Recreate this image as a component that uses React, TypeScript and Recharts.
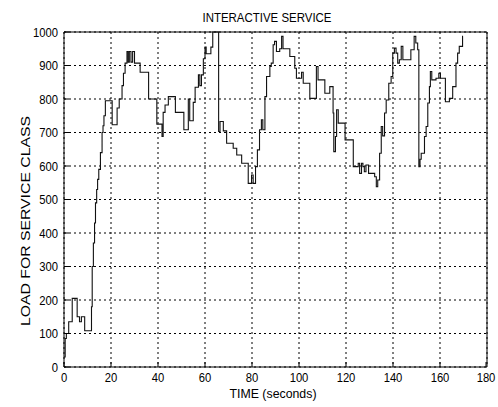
import { LineChart, Line, XAxis, YAxis, CartesianGrid, ReferenceArea } from 'recharts';

// time (s) and load; drawn as a step line
const timeSec = [
  0, 0.5, 1, 2, 3.5, 5.6, 6.6, 7.4, 8.8, 11.7, 12, 12.5, 13, 13.4, 13.9, 14.3, 14.8, 15.5, 16.2, 16.6,
  17, 17.6, 20.5, 22.6, 23.5, 24.7, 25.3, 26, 26.8, 27.3, 27.8, 28.5, 29.2, 30, 32.4, 36, 39.5, 41.7, 42.2, 43,
  44.4, 47.4, 51, 52.9, 53.5, 55, 55.8, 57.2, 57.8, 58.5, 59.3, 60, 60.5, 62.5, 63.3, 65.8, 66.4, 67.8, 69.2, 72,
  73.5, 75.6, 78.4, 79.8, 80.5, 81.5, 82.3, 83.2, 84, 84.6, 85.5, 86.2, 87.6, 88.2, 89, 89.6, 90.4, 91.8, 92.6, 93.2,
  96.1, 98.2, 98.9, 101.1, 101.8, 104.6, 107.4, 108.1, 111, 113.1, 114.5, 114.8, 115.5, 116, 116.7, 119.6, 123.1, 125.2, 125.8, 126.6,
  127.2, 127.8, 128.5, 129.6, 132.2, 132.9, 133.5, 134.3, 135, 135.6, 136.4, 137.1, 138.2, 139.2, 139.9, 140.6, 141.3, 142, 142.7, 143.5,
  144.2, 147.6, 149, 149.7, 150.5, 151, 151.5, 152, 153.4, 154.1, 154.8, 155.5, 155.9, 156.5, 158.3, 159.5, 160.2, 162.3, 164, 165.4,
  166.8, 167.5, 168.2, 169.6, 169.8,
];

const loadValues = [
  30, 85, 100, 135, 205, 150, 135, 150, 108, 180, 300, 370, 430, 490, 530, 560, 590, 640, 700, 720,
  750, 795, 723, 773, 800, 840, 877, 907, 942, 910, 942, 910, 942, 907, 880, 800, 725, 688, 760, 782,
  807, 760, 708, 800, 735, 790, 835, 872, 840, 872, 920, 955, 935, 955, 1000, 703, 733, 705, 668, 653,
  633, 608, 548, 573, 548, 598, 648, 708, 738, 708, 807, 867, 897, 907, 962, 972, 942, 950, 987, 950,
  927, 892, 862, 880, 847, 802, 897, 857, 817, 837, 758, 643, 688, 768, 728, 678, 598, 608, 578, 608,
  598, 583, 603, 578, 568, 538, 558, 638, 718, 690, 758, 797, 847, 867, 937, 952, 937, 907, 917, 957,
  917, 947, 987, 967, 947, 598, 620, 638, 688, 718, 788, 837, 882, 857, 862, 877, 862, 792, 802, 837,
  907, 937, 957, 987, 987,
];

const xTicks = [0, 20, 40, 60, 80, 100, 120, 140, 160, 180];
const yTicks = [0, 100, 200, 300, 400, 500, 600, 700, 800, 900, 1000];

const data = timeSec.map((t, i) => ({ t, load: loadValues[i] }));

const FONT = '"Liberation Sans", Arial, sans-serif';

const XTick = (props: any) => {
  const { x, y, payload } = props;
  return (
    <g>
      <line x1={x} y1={y} x2={x} y2={y - 5} stroke="#000" />
      <text
        transform={`translate(${x},${y + 15}) scale(0.9,1)`}
        textAnchor="middle"
        fontFamily={FONT}
        fontSize={12.5}
        fill="#000"
      >
        {payload.value}
      </text>
    </g>
  );
};

const YTick = (props: any) => {
  const { x, y, payload } = props;
  return (
    <g>
      <line x1={x + 6} y1={y} x2={x + 11} y2={y} stroke="#000" />
      <text
        transform={`translate(${x},${y + 4.5}) scale(0.9,1)`}
        textAnchor="end"
        fontFamily={FONT}
        fontSize={12.5}
        fill="#000"
      >
        {payload.value}
      </text>
    </g>
  );
};

export default function App() {
  return (
    <div style={{ position: 'absolute', left: 0, top: 0, width: 498, height: 407, background: '#fff' }}>
      <LineChart width={498} height={407} data={data} margin={{ top: 32, right: 11, bottom: 0, left: 0 }}>
        <CartesianGrid stroke="#000" strokeDasharray="2 3" />
        <XAxis
          dataKey="t"
          type="number"
          domain={[0, 180]}
          ticks={xTicks}
          height={40}
          tickSize={0}
          tickMargin={0}
          axisLine={false}
          tick={<XTick />}
        />
        <YAxis
          type="number"
          domain={[0, 1000]}
          ticks={yTicks}
          width={64}
          tickSize={0}
          tickMargin={6}
          axisLine={false}
          tick={<YTick />}
        />
        <ReferenceArea x1={0} x2={180} y1={0} y2={1000} fill="none" stroke="#000" strokeWidth={1} />
        <Line
          type="stepAfter"
          dataKey="load"
          stroke="#111"
          strokeWidth={1.1}
          dot={false}
          isAnimationActive={false}
        />
        <text x={267} y={22} textAnchor="middle" fontFamily={FONT} fontSize={13} textLength={129} lengthAdjust="spacingAndGlyphs">
          INTERACTIVE SERVICE
        </text>
        <text x={273} y={398} textAnchor="middle" fontFamily={FONT} fontSize={12} textLength={87} lengthAdjust="spacingAndGlyphs">
          TIME (seconds)
        </text>
        <text
          transform="translate(30,221) rotate(-90)"
          textAnchor="middle"
          fontFamily={FONT}
          fontSize={13}
          textLength={210}
          lengthAdjust="spacingAndGlyphs"
        >
          LOAD FOR SERVICE CLASS
        </text>
      </LineChart>
    </div>
  );
}
